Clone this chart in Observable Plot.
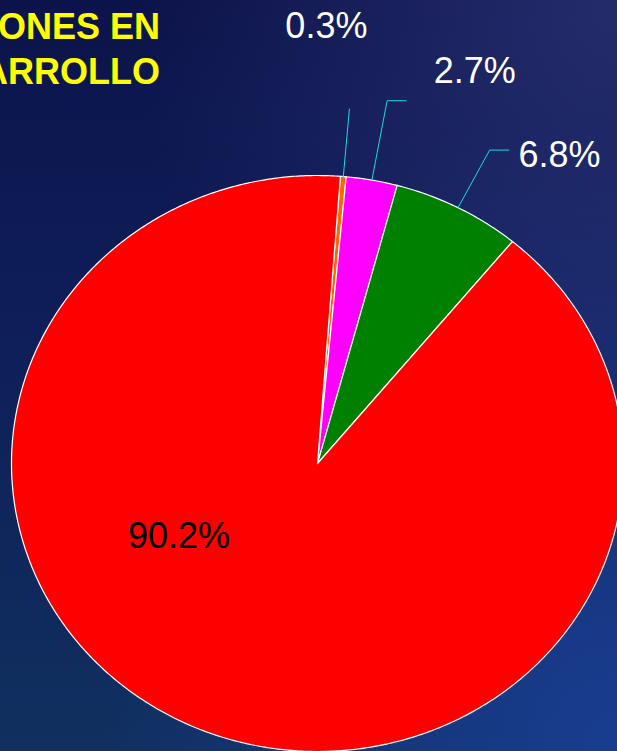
<!DOCTYPE html>
<html>
<head>
<meta charset="utf-8">
<script src="https://cdn.jsdelivr.net/npm/d3@7"></script>
<script src="https://cdn.jsdelivr.net/npm/@observablehq/plot@0.6"></script>
<style>
  html, body { margin: 0; padding: 0; }
  body {
    width: 617px; height: 751px; overflow: hidden;
    background:
      radial-gradient(ellipse at 100% 0%, rgba(42,50,116,0.8) 0%, rgba(42,50,116,0) 55%),
      radial-gradient(ellipse at 100% 100%, rgba(26,62,150,0.9) 0%, rgba(26,62,150,0) 60%),
      linear-gradient(to bottom, #0c134a 0%, #0e1d58 40%, #10305f 100%);
  }
  #wrap { position: relative; width: 617px; height: 751px; }
  #title {
    position: absolute; right: calc(617px - 160px); top: 0;
    font-family: "Liberation Sans", Arial, sans-serif; font-weight: bold;
    font-size: 36px; line-height: 45px; color: #ffff00; text-align: right;
    white-space: nowrap; padding-top: 4px;
  }
  #chart { position: absolute; left: 0; top: 0; }
</style>
</head>
<body>
<div id="wrap">
  <div id="chart"></div>
  <div id="title">ONES EN<br>ARROLLO</div>
</div>
<script>
// ---- data ----
const sliceNames = ["Orange", "Magenta", "Green", "Red"];
const shares = [0.3, 2.7, 6.8, 90.2];           // percent
const labels = ["0.3%", "2.7%", "6.8%", "90.2%"];
// ---- styles ----
const sliceColors = ["#ff6600", "#ff00ff", "#008000", "#ff0000"];
const startAngle = 4.3; // degrees clockwise from 12 o'clock

// scale geometry (px)
const X_RANGE = [11, 623], Y_RANGE = [751, 175];
const RX = (X_RANGE[1] - X_RANGE[0]) / 2, RY = (Y_RANGE[0] - Y_RANGE[1]) / 2;

// label layout (leader radius, hook length px, text offsets px)
const labelLayout = [
  {r: 1.235, hook: 0,  dx: -23,   dy: -71.4},
  {r: 1.28,  hook: 19, dx: 87.7,  dy: -17.3},
  {r: 1.225, hook: 19, dx: 69.8,  dy: 17.1},
  {inside: true, dx: -138.5, dy: 84}
];

const rad = d => d * Math.PI / 180;
const pt = (deg, r) => ({x: r * Math.sin(rad(deg)), y: r * Math.cos(rad(deg))});

let acc = startAngle;
const slices = shares.map((v, i) => {
  const a0 = acc, a1 = acc + v / 100 * 360;
  acc = a1;
  const n = Math.max(2, Math.ceil((a1 - a0) / 0.5));
  const pts = [{x: 0, y: 0}];
  for (let k = 0; k <= n; k++) pts.push(pt(a0 + (a1 - a0) * k / n, 1));
  pts.push({x: 0, y: 0});
  return {name: sliceNames[i], color: sliceColors[i], a0, a1, mid: (a0 + a1) / 2, pts};
});

const leaders = [];
const outsideLabels = [];
const insideLabels = [];
slices.forEach((s, i) => {
  const L = labelLayout[i];
  if (L.inside) {
    insideLabels.push({x: L.dx / RX, y: -L.dy / RY, text: labels[i]});
    return;
  }
  const p0 = pt(s.mid, 1), p1 = pt(s.mid, L.r);
  const pts = [p0, p1];
  if (L.hook) pts.push({x: p1.x + L.hook / RX, y: p1.y});
  leaders.push(pts);
  outsideLabels.push({x: p1.x + L.dx / RX, y: p1.y - L.dy / RY, text: labels[i]});
});

const font = "Liberation Sans, Arial, sans-serif";

const chart = Plot.plot({
  width: 617, height: 751, margin: 0,
  x: {domain: [-1, 1], range: X_RANGE, axis: null},
  y: {domain: [-1, 1], range: Y_RANGE, axis: null},
  style: {background: "transparent", overflow: "visible"},
  marks: [
    ...slices.map(s => Plot.line(s.pts, {
      x: "x", y: "y", fill: s.color, stroke: "white",
      strokeWidth: 1.2, strokeLinejoin: "round"
    })),
    ...leaders.map(l => Plot.line(l, {x: "x", y: "y", stroke: "#1ed8e6", strokeWidth: 1})),
    Plot.text(outsideLabels, {x: "x", y: "y", text: "text", fill: "white",
      fontSize: 36, fontFamily: font, textAnchor: "middle", lineAnchor: "bottom"}),
    Plot.text(insideLabels, {x: "x", y: "y", text: "text", fill: "black",
      fontSize: 36, fontFamily: font, textAnchor: "middle", lineAnchor: "bottom"})
  ]
});
document.getElementById("chart").appendChild(chart);
</script>
</body>
</html>
